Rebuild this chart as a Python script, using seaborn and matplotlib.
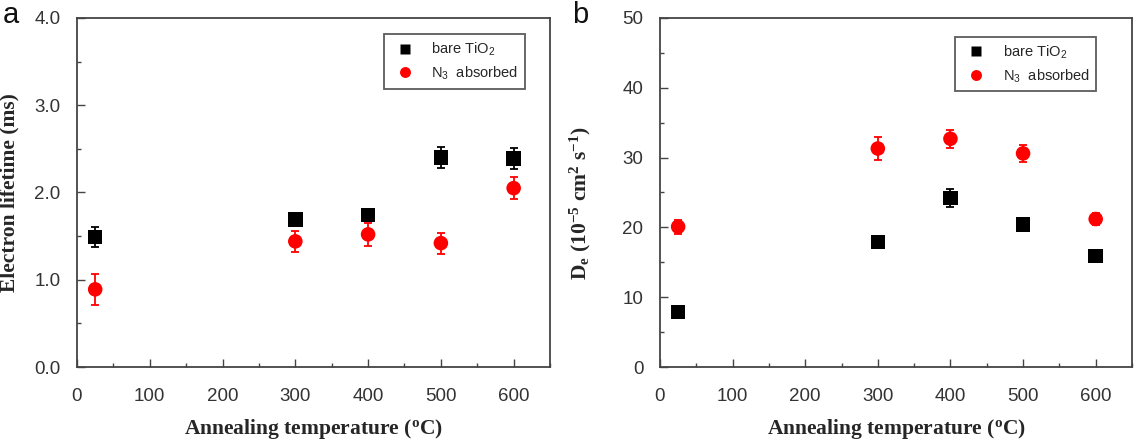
import numpy as np
import pandas as pd
import matplotlib
matplotlib.use("Agg")
import matplotlib.pyplot as plt
import seaborn as sns
from matplotlib.ticker import MultipleLocator

# data
temps = [25, 300, 400, 500, 600]

life_bare = [1.49, 1.69, 1.74, 2.40, 2.39]
life_bare_err = [0.12, 0.07, 0.07, 0.12, 0.12]
life_n3 = [0.89, 1.44, 1.52, 1.42, 2.05]
life_n3_err = [0.18, 0.12, 0.13, 0.12, 0.13]

de_bare = [7.9, 17.9, 24.2, 20.4, 15.9]
de_bare_err = [0.5, 0.8, 1.3, 0.6, 0.6]
de_n3 = [20.1, 31.3, 32.7, 30.6, 21.2]
de_n3_err = [1.0, 1.6, 1.3, 1.2, 0.8]

series = ["bare TiO$_2$", "N$_3$  absorbed"]

sns.set_theme(style="ticks")
plt.rcParams["font.family"] = ["Liberation Sans", "DejaVu Sans"]
plt.rcParams["mathtext.default"] = "regular"

fig = plt.figure(figsize=(11.44, 4.41), dpi=100)
ax1 = fig.add_axes([0.0673, 0.1678, 0.4135, 0.7914])
ax2 = fig.add_axes([0.5769, 0.1678, 0.4126, 0.7914])

label_font = dict(family=["Liberation Serif", "DejaVu Serif"], weight="bold", size=15.5)


def panel(ax, bare, bare_err, n3, n3_err, ylim, ymaj, ymin, fmt, leg_anchor):
    df = pd.DataFrame({
        "T": temps * 2,
        "v": bare + n3,
        "s": [series[0]] * 5 + [series[1]] * 5,
    })
    ax.errorbar(temps, bare, yerr=bare_err, fmt="none", ecolor="black",
                elinewidth=1.3, capsize=3, capthick=1.3, zorder=2)
    ax.errorbar(temps, n3, yerr=n3_err, fmt="none", ecolor="red",
                elinewidth=1.3, capsize=3, capthick=1.3, zorder=2)
    sns.scatterplot(data=df, x="T", y="v", hue="s", style="s",
                    palette=["black", "red"], markers=["s", "o"],
                    s=110, edgecolor="none", ax=ax, zorder=3)
    ax.set_xlim(0, 650)
    ax.set_ylim(*ylim)
    ax.xaxis.set_major_locator(MultipleLocator(100))
    ax.xaxis.set_minor_locator(MultipleLocator(50))
    ax.yaxis.set_major_locator(MultipleLocator(ymaj))
    ax.yaxis.set_minor_locator(MultipleLocator(ymin))
    ax.yaxis.set_major_formatter(fmt)
    ax.tick_params(which="both", direction="in", top=False, right=False,
                   labelsize=13.5, labelcolor="#333333", color="#444444")
    ax.tick_params(which="major", length=6, width=1)
    ax.tick_params(which="minor", length=3, width=1)
    ax.tick_params(axis="x", which="major", pad=15)
    ax.tick_params(axis="y", which="major", pad=12)
    for sp in ax.spines.values():
        sp.set_color("#444444")
        sp.set_linewidth(1.3)
    ax.set_xlabel("Annealing temperature ($^o$C)", fontdict=label_font, labelpad=9)
    leg = ax.legend(loc="upper right", bbox_to_anchor=leg_anchor, fontsize=10.5,
                    frameon=True, fancybox=False, edgecolor="#333333",
                    handletextpad=0.8, borderpad=0.45, labelspacing=0.45,
                    markerscale=0.75, borderaxespad=0)
    leg.get_frame().set_linewidth(1.3)


panel(ax1, life_bare, life_bare_err, life_n3, life_n3_err,
      (0, 4.0), 1.0, 0.5, "{x:.1f}", (0.947, 0.954))
ax1.set_ylabel("Electron lifetime (ms)", fontdict=label_font)
ax1.yaxis.set_label_coords(-0.122, 0.5)

panel(ax2, de_bare, de_bare_err, de_n3, de_n3_err,
      (0, 50), 10, 5, "{x:.0f}", (0.924, 0.946))
ax2.set_ylabel("D$_e$ (10$^{-5}$ cm$^2$ s$^{-1}$)", fontdict=label_font)
ax2.yaxis.set_label_coords(-0.142, 0.47)

fig.text(0.002, 0.998, "a", fontsize=21, va="top", ha="left", color="#111111")
fig.text(0.5, 0.998, "b", fontsize=21, va="top", ha="left", color="#111111")

fig.savefig("out.png", dpi=100)
